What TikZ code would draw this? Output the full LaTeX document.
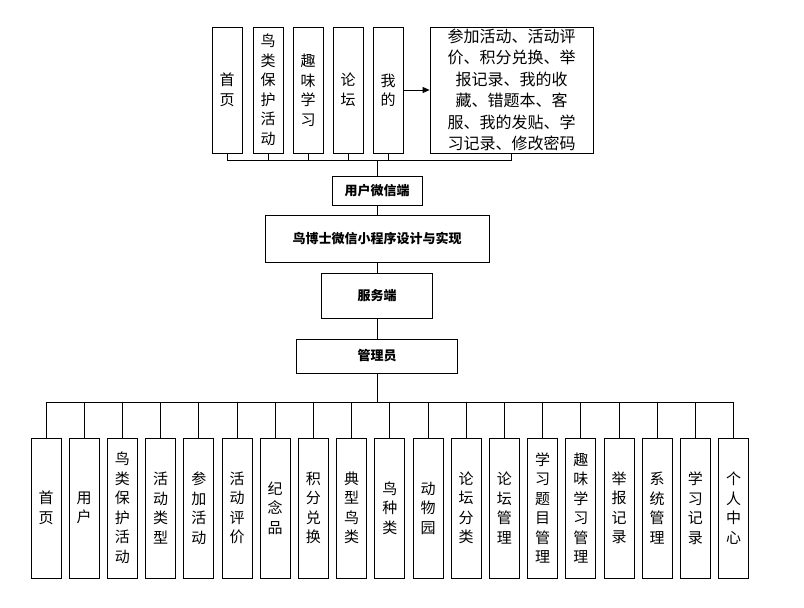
\documentclass[tikz,border=0pt]{standalone}
\usepackage{fontspec}
\setmainfont{Noto Sans CJK SC}
\usetikzlibrary{arrows.meta}
\begin{document}
\begin{tikzpicture}[x=1pt,y=-1pt,
	vbox/.style={draw, thick, minimum width=30pt, align=center, font=\fontsize{15}{19.5}\selectfont, inner sep=0pt},
	hbox/.style={draw, thick, font=\fontsize{13}{15}\selectfont\bfseries}]
	\useasboundingbox (0,0) rectangle (804,608);
	% top level
	\node[vbox, minimum height=126pt] (t1) at (227,90) {首\\页};
	\node[vbox, minimum height=126pt] (t2) at (268,90) {鸟\\类\\保\\护\\活\\动};
	\node[vbox, minimum height=126pt] (t3) at (308,90) {趣\\味\\学\\习};
	\node[vbox, minimum height=126pt] (t4) at (348,90) {论\\坛};
	\node[vbox, minimum height=126pt] (t5) at (388,90) {我\\的};
	\node[draw, thick, minimum width=163pt, minimum height=126pt, align=center, inner sep=0pt,
		font=\fontsize{16}{21.5}\selectfont] (mine) at (511.5,90)
		{参加活动、活动评\\价、积分兑换、举\\报记录、我的收\\藏、错题本、客\\服、我的发贴、学\\习记录、修改密码};
	\draw[thick, -{Triangle[length=7pt,width=6pt]}] (t5.east) -- (mine.west);
	\node[hbox, minimum width=90pt, minimum height=29pt] (user) at (377,190.5) {用户微信端};
	\node[hbox, minimum width=224pt, minimum height=47pt] (sys) at (377,238.5) {鸟博士微信小程序设计与实现};
	\node[hbox, minimum width=111pt, minimum height=45pt] (srv) at (377,295.5) {服务端};
	\node[hbox, minimum width=161pt, minimum height=34pt] (adm) at (377,356) {管理员};
	\coordinate (tbus) at (377,160);
	\draw[thick] (t1.south) |- (mine.south |- tbus) -- (mine.south);
	\foreach \n in {t2,t3,t4,t5}
		\draw[thick] (\n.south) -- (\n.south |- tbus);
	\draw[thick] (tbus) -- (user.north);
	\draw[thick] (user) -- (sys) -- (srv) -- (adm);
	% bottom level
	\coordinate (bbus) at (377,402);
	\foreach [count=\i] \t in {首\\页, 用\\户, 鸟\\类\\保\\护\\活\\动, 活\\动\\类\\型, 参\\加\\活\\动,
		活\\动\\评\\价, 纪\\念\\品, 积\\分\\兑\\换, 典\\型\\鸟\\类, 鸟\\种\\类, 动\\物\\园,
		论\\坛\\分\\类, 论\\坛\\管\\理, 学\\习\\题\\目\\管\\理, 趣\\味\\学\\习\\管\\理,
		举\\报\\记\\录, 系\\统\\管\\理, 学\\习\\记\\录, 个\\人\\中\\心} {
		\node[vbox, minimum height=140pt] (b\i) at ({46+(\i-1)*38.2},508) {\t};
		\draw[thick] (b\i.north) -- (b\i.north |- bbus);
	}
	\draw[thick] (b1.north |- bbus) -- (b19.north |- bbus);
	\draw[thick] (adm.south) -- (bbus);
\end{tikzpicture}
\end{document}
